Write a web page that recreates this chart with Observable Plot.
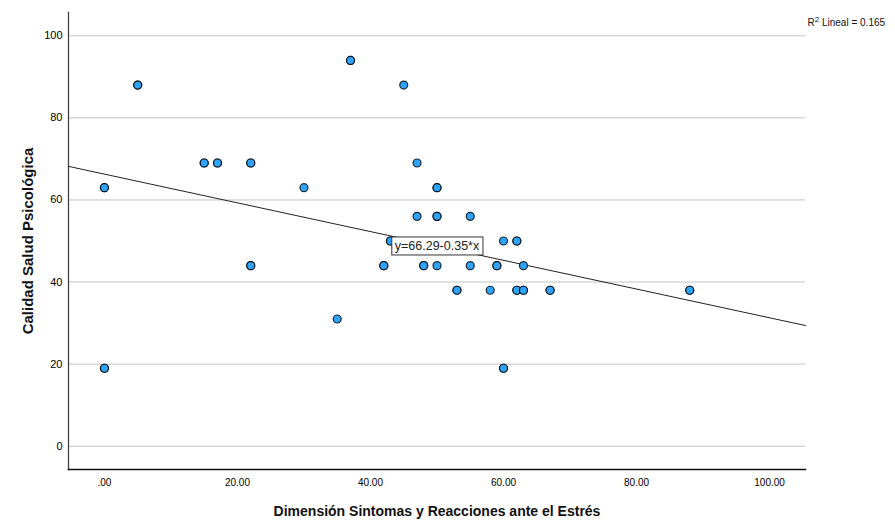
<!DOCTYPE html>
<html>
<head>
<meta charset="utf-8">
<script src="https://cdn.jsdelivr.net/npm/d3@7"></script>
<script src="https://cdn.jsdelivr.net/npm/@observablehq/plot@0.6"></script>
<style>
  html, body { margin: 0; padding: 0; background: #fff; }
  #chart { width: 895px; height: 522px; }
</style>
</head>
<body>
<div id="chart"></div>
<script>
// Data (duplicates = overlapping cases, drawn darker)
const xValues = [0, 0, 5, 5, 15, 15, 17, 17, 22, 22, 22, 22, 30, 35, 37, 37, 0, 0,
  45, 47, 50, 50, 47, 50, 50, 55, 43, 43, 60, 62, 62, 42, 42, 48, 48, 50, 55, 59, 59, 63,
  53, 53, 58, 62, 62, 63, 63, 67, 67, 60, 60, 88, 88];
const yValues = [63, 63, 88, 88, 69, 69, 69, 69, 69, 69, 44, 44, 63, 31, 94, 94, 19, 19,
  88, 69, 63, 63, 56, 56, 56, 56, 50, 50, 50, 50, 50, 44, 44, 44, 44, 44, 44, 44, 44, 44,
  38, 38, 38, 38, 38, 38, 38, 38, 38, 19, 19, 38, 38];
const xTicks = [0, 20, 40, 60, 80, 100];
const xTickLabels = [".00", "20.00", "40.00", "60.00", "80.00", "100.00"];
const yTicks = [0, 20, 40, 60, 80, 100];
const intercept = 66.29;
const slope = -0.35;
const r2 = 0.165;
const xLabel = "Dimensión Sintomas y Reacciones ante el Estrés";
const yLabel = "Calidad Salud Psicológica";
const equationText = "y=66.29-0.35*x";
const r2Text = "R2 Lineal = 0.165";

const xDomain = [-5.4, 105.4];
const yDomain = [-5.67, 105.67];

const points = xValues.map((x, i) => ({x, y: yValues[i]}));
const fitLine = xDomain.map(x => ({x, y: intercept + slope * x}));
const eqAnchor = [{x: 50, y: intercept + slope * 50}];

const chart = Plot.plot({
  width: 895,
  height: 522,
  marginLeft: 68,
  marginRight: 90,
  marginTop: 12,
  marginBottom: 53,
  style: {fontFamily: "'Liberation Sans', Arial, sans-serif", fontSize: "10px", color: "#000", background: "#fff", overflow: "visible"},
  x: {domain: xDomain},
  y: {domain: yDomain},
  marks: [
    Plot.gridY(yTicks, {stroke: "#c4c4c4", strokeOpacity: 1, strokeWidth: 1}),
    Plot.axisY(yTicks, {tickSize: 0, tickPadding: 6, tickFormat: d => String(d), label: null, fontSize: 11}),
    Plot.axisX(xTicks, {tickSize: 0, tickPadding: 9, tickFormat: (d, i) => xTickLabels[i], label: null, fontSize: 10}),
    Plot.frame({anchor: "left", stroke: "#444", strokeWidth: 1.3}),
    Plot.frame({anchor: "bottom", stroke: "#111", strokeWidth: 1.5}),
    Plot.line(fitLine, {x: "x", y: "y", stroke: "#222", strokeWidth: 1}),
    Plot.dot(points, {x: "x", y: "y", r: 4, fill: "#2ea3f7", stroke: "#000", strokeWidth: 1.2, strokeOpacity: 0.8}),
    Plot.text(eqAnchor, {x: "x", y: "y", text: () => equationText, fontSize: 12.5, fill: "#222", textAnchor: "middle", lineAnchor: "middle"}),
    Plot.text([r2Text], {frameAnchor: "top-right", dx: 2, dy: 10, textAnchor: "start", lineAnchor: "middle", fontSize: 10, fill: "#111"}),
    Plot.text([yLabel], {frameAnchor: "left", rotate: -90, dx: -40, textAnchor: "middle", lineAnchor: "middle", fontSize: 15, fontWeight: "bold", fill: "#111"}),
    Plot.text([xLabel], {frameAnchor: "bottom", dy: 42, textAnchor: "middle", lineAnchor: "middle", fontSize: 14, fontWeight: "bold", fill: "#111"})
  ]
});

document.getElementById("chart").appendChild(chart);

// Superscript in the R² label
const r2Node = Array.from(chart.querySelectorAll("text")).find(t => t.textContent === r2Text);
if (r2Node) {
  r2Node.textContent = "";
  const ns = "http://www.w3.org/2000/svg";
  const a = document.createElementNS(ns, "tspan"); a.textContent = "R";
  const b = document.createElementNS(ns, "tspan"); b.textContent = "2";
  b.setAttribute("font-size", "8"); b.setAttribute("dy", "-4");
  const c = document.createElementNS(ns, "tspan"); c.textContent = " Lineal = " + r2.toFixed(3);
  c.setAttribute("dy", "4");
  r2Node.append(a, b, c);
}

// Boxed background behind the equation label
const eqText = Array.from(chart.querySelectorAll("text")).find(t => t.textContent === equationText);
if (eqText) {
  const bb = eqText.getBBox();
  const rect = document.createElementNS("http://www.w3.org/2000/svg", "rect");
  rect.setAttribute("x", bb.x - 3);
  rect.setAttribute("y", bb.y - 2);
  rect.setAttribute("width", bb.width + 6);
  rect.setAttribute("height", bb.height + 4);
  rect.setAttribute("fill", "#fff");
  rect.setAttribute("stroke", "#333");
  rect.setAttribute("stroke-width", "1");
  const t = eqText.getAttribute("transform");
  if (t) rect.setAttribute("transform", t);
  eqText.parentNode.insertBefore(rect, eqText);
}
</script>
</body>
</html>
